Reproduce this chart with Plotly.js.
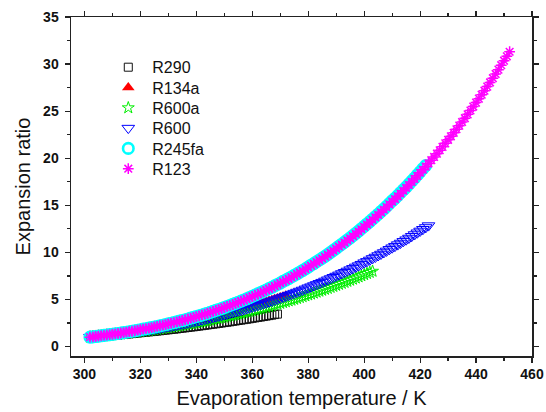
<!DOCTYPE html>
<html>
<head>
<meta charset="utf-8">
<script src="https://cdn.plot.ly/plotly-3.0.1.min.js"></script>
<style>html,body{margin:0;padding:0;background:#fff;}#chart{width:546px;height:412px;}</style>
</head>
<body>
<div id="chart"></div>
<script>
// Evaporation temperature (K), shared by every series (each series uses the first N values)
var temps = [302,303,304,305,306,307,308,309,310,311,312,313,314,315,316,317,318,319,320,
321,322,323,324,325,326,327,328,329,330,331,332,333,334,335,336,337,338,339,340,
341,342,343,344,345,346,347,348,349,350,351,352,353,354,355,356,357,358,359,360,
361,362,363,364,365,366,367,368,369,370,371,372,373,374,375,376,377,378,379,380,
381,382,383,384,385,386,387,388,389,390,391,392,393,394,395,396,397,398,399,400,
401,402,403,404,405,406,407,408,409,410,411,412,413,414,415,416,417,418,419,420,
421,422,423,424,425,426,427,428,429,430,431,432,433,434,435,436,437,438,439,440,
441,442,443,444,445,446,447,448,449,450,451,452];

var seriesNames = ["R290","R134a","R600a","R600","R245fa","R123"];

var r290 = [1.00,1.02,1.04,1.07,1.09,1.12,1.14,1.17,1.19,
1.22,1.24,1.27,1.30,1.32,1.35,1.38,1.41,1.44,1.47,
1.50,1.53,1.56,1.59,1.62,1.65,1.68,1.72,1.75,1.78,
1.82,1.85,1.88,1.92,1.96,1.99,2.03,2.07,2.10,2.14,
2.18,2.22,2.26,2.30,2.34,2.38,2.42,2.46,2.50,2.55,
2.59,2.63,2.68,2.72,2.77,2.81,2.86,2.90,2.95,3.00,
3.05,3.10,3.14,3.19,3.24,3.29,3.34,3.40,3.45];

var r134a = [1.15,1.18,1.21,1.25,1.28,1.31,1.35,1.38,1.42,
1.46,1.49,1.53,1.57,1.61,1.65,1.69,1.74,1.78,1.83,
1.87,1.91,1.96,2.01,2.05,2.10,2.15,2.20,2.26,2.31,
2.36,2.41,2.47,2.52,2.58,2.64,2.70,2.76,2.82,2.88,
2.94,3.00,3.07,3.13,3.20,3.27,3.33,3.41,3.48,3.55,
3.62,3.69,3.77,3.84,3.92,4.00,4.07,4.16,4.24,4.32,
4.40,4.49,4.57,4.66,4.75,4.83,4.93,5.02,5.11,5.21,
5.30,5.40];

var r600a = [1.00,1.03,1.06,1.08,1.11,1.14,1.17,1.21,1.24,
1.27,1.30,1.34,1.37,1.41,1.44,1.48,1.52,1.56,1.59,
1.63,1.67,1.71,1.75,1.80,1.84,1.88,1.93,1.97,2.02,
2.07,2.11,2.16,2.21,2.26,2.31,2.36,2.42,2.47,2.53,
2.58,2.64,2.69,2.75,2.81,2.87,2.93,2.99,3.06,3.12,
3.18,3.25,3.31,3.38,3.45,3.52,3.59,3.66,3.73,3.81,
3.88,3.95,4.03,4.10,4.18,4.26,4.34,4.43,4.51,4.59,
4.68,4.76,4.85,4.93,5.02,5.11,5.21,5.30,5.39,5.49,
5.58,5.68,5.78,5.88,5.98,6.08,6.18,6.29,6.39,6.50,
6.61,6.72,6.82,6.93,7.05,7.16,7.28,7.40,7.52,7.64,
7.76,7.88,8.00];

var r600 = [1.00,1.03,1.06,1.09,1.12,1.15,1.19,1.22,1.26,
1.29,1.33,1.37,1.40,1.44,1.48,1.52,1.56,1.61,1.65,
1.69,1.74,1.78,1.83,1.88,1.93,1.97,2.03,2.08,2.13,
2.18,2.24,2.29,2.35,2.41,2.46,2.52,2.59,2.65,2.71,
2.77,2.84,2.90,2.97,3.04,3.11,3.18,3.25,3.33,3.40,
3.47,3.55,3.63,3.71,3.79,3.87,3.95,4.04,4.12,4.21,
4.30,4.39,4.48,4.57,4.66,4.76,4.85,4.95,5.06,5.16,
5.26,5.36,5.46,5.57,5.68,5.79,5.90,6.01,6.13,6.25,
6.36,6.48,6.60,6.72,6.84,6.97,7.10,7.23,7.36,7.49,
7.62,7.76,7.89,8.03,8.17,8.31,8.46,8.60,8.75,8.91,
9.05,9.20,9.36,9.51,9.67,9.83,9.99,10.16,10.33,10.50,
10.66,10.83,11.00,11.18,11.35,11.53,11.72,11.90,12.09,12.28,
12.46,12.65,12.85];

var r245fa = [1.00,1.03,1.07,1.11,1.15,1.19,1.23,1.27,1.31,
1.35,1.39,1.44,1.48,1.53,1.58,1.63,1.68,1.74,1.79,
1.85,1.90,1.96,2.02,2.08,2.14,2.21,2.27,2.34,2.41,
2.48,2.55,2.62,2.70,2.77,2.85,2.93,3.02,3.10,3.19,
3.27,3.36,3.45,3.54,3.64,3.74,3.84,3.94,4.04,4.15,
4.26,4.37,4.48,4.59,4.71,4.83,4.95,5.07,5.20,5.33,
5.47,5.60,5.73,5.87,6.01,6.15,6.30,6.45,6.60,6.75,
6.92,7.07,7.23,7.39,7.56,7.73,7.90,8.08,8.26,8.45,
8.64,8.82,9.01,9.20,9.39,9.59,9.80,10.01,10.22,10.44,
10.66,10.87,11.09,11.32,11.55,11.78,12.03,12.27,12.52,12.77,
13.02,13.28,13.53,13.79,14.06,14.33,14.60,14.88,15.18,15.47,
15.75,16.04,16.34,16.64,16.94,17.25,17.57,17.89,18.23,18.56,
18.89,19.22];

var r123 = [1.00,1.03,1.07,1.11,1.15,1.19,1.23,1.27,1.31,
1.35,1.39,1.44,1.48,1.53,1.58,1.63,1.68,1.74,1.79,
1.85,1.90,1.96,2.02,2.08,2.14,2.21,2.27,2.34,2.41,
2.48,2.55,2.62,2.70,2.77,2.85,2.93,3.02,3.10,3.19,
3.27,3.36,3.45,3.54,3.64,3.74,3.84,3.94,4.04,4.15,
4.26,4.36,4.47,4.58,4.70,4.82,4.94,5.06,5.19,5.32,
5.45,5.58,5.71,5.85,5.99,6.13,6.28,6.43,6.58,6.73,
6.89,7.04,7.20,7.36,7.53,7.70,7.87,8.05,8.23,8.42,
8.60,8.78,8.97,9.16,9.35,9.55,9.76,9.97,10.18,10.40,
10.61,10.82,11.04,11.27,11.50,11.73,11.97,12.21,12.46,12.71,
12.96,13.21,13.46,13.72,13.99,14.26,14.53,14.81,15.10,15.39,
15.67,15.96,16.25,16.55,16.85,17.16,17.48,17.80,18.13,18.46,
18.78,19.11,19.45,19.79,20.14,20.49,20.85,21.21,21.58,21.96,
22.33,22.70,23.08,23.46,23.85,24.25,24.66,25.07,25.49,25.91,
26.33,26.75,27.17,27.61,28.05,28.50,28.95,29.41,29.88,30.36,
30.83,31.31];

var xTickVals = [300,320,340,360,380,400,420,440,460];
var yTickVals = [0,5,10,15,20,25,30,35];

var values = [r290, r134a, r600a, r600, r245fa, r123];
var styles = [
  {symbol:'square-open', color:'#111111', size:8, lw:1},
  {symbol:'triangle-up', color:'#ff0000', size:11, lw:0},
  {symbol:'star-open', color:'#00ee00', size:9, lw:1},
  {symbol:'triangle-down-open', color:'#0000ff', size:11, lw:1},
  {symbol:'circle-open', color:'#00ffff', size:10.5, lw:2.6},
  {symbol:'asterisk-open', color:'#ff00ff', size:9, lw:1.5}
];
var legendNames = ['legend','legend2','legend3','legend4','legend5','legend6'];

var data = values.map(function(v, i){
  var s = styles[i];
  return {
    type:'scatter', mode:'markers', name:seriesNames[i], legend:legendNames[i],
    x: temps.slice(0, v.length), y: v,
    marker:{symbol:s.symbol, size:s.size, color:s.color, line:{color:s.color, width:s.lw}}
  };
});

var fam = 'Arial, "Liberation Sans", sans-serif';
var axisCommon = {
  showline:true, linecolor:'#222', linewidth:1.5, mirror:'allticks',
  ticks:'outside', ticklen:5, tickwidth:1.2, tickcolor:'#222',
  showgrid:false, zeroline:false,
  tickfont:{family:fam, size:14, color:'#111', weight:'bold'}
};

var layout = {
  width:546, height:412,
  margin:{l:71, r:14, t:17, b:56},
  paper_bgcolor:'#fff', plot_bgcolor:'#fff',
  font:{family:fam},
  showlegend:true,
  xaxis: Object.assign({}, axisCommon, {
    range:[295.2, 460], tickmode:'array', tickvals:xTickVals,
    minor:{tickvals:[310,330,350,370,390,410,430,450], ticklen:3, ticks:'outside', tickcolor:'#222', tickwidth:1.2},
    title:{text:'Evaporation temperature / K', font:{family:fam, size:20, color:'#111'}, standoff:9}
  }),
  yaxis: Object.assign({}, axisCommon, {
    range:[-1, 35], tickmode:'array', tickvals:yTickVals, ticklabelstandoff:3,
    minor:{tickvals:[2.5,7.5,12.5,17.5,22.5,27.5,32.5], ticklen:3, ticks:'outside', tickcolor:'#222', tickwidth:1.2},
    title:{text:'Expansion ratio', font:{family:fam, size:20, color:'#111'}, standoff:7}
  })
};

var legendYs = [0.9018, 0.8419, 0.7820, 0.7221, 0.6622, 0.6023];
legendNames.forEach(function(nm, i){
  layout[nm] = {x:0.0722, y:legendYs[i], xanchor:'left', yanchor:'top', bgcolor:'rgba(0,0,0,0)',
    itemwidth:38, font:{family:fam, size:16, color:'#111'}};
});

Plotly.newPlot('chart', data, layout, {staticPlot:true, displayModeBar:false});
</script>
</body>
</html>
